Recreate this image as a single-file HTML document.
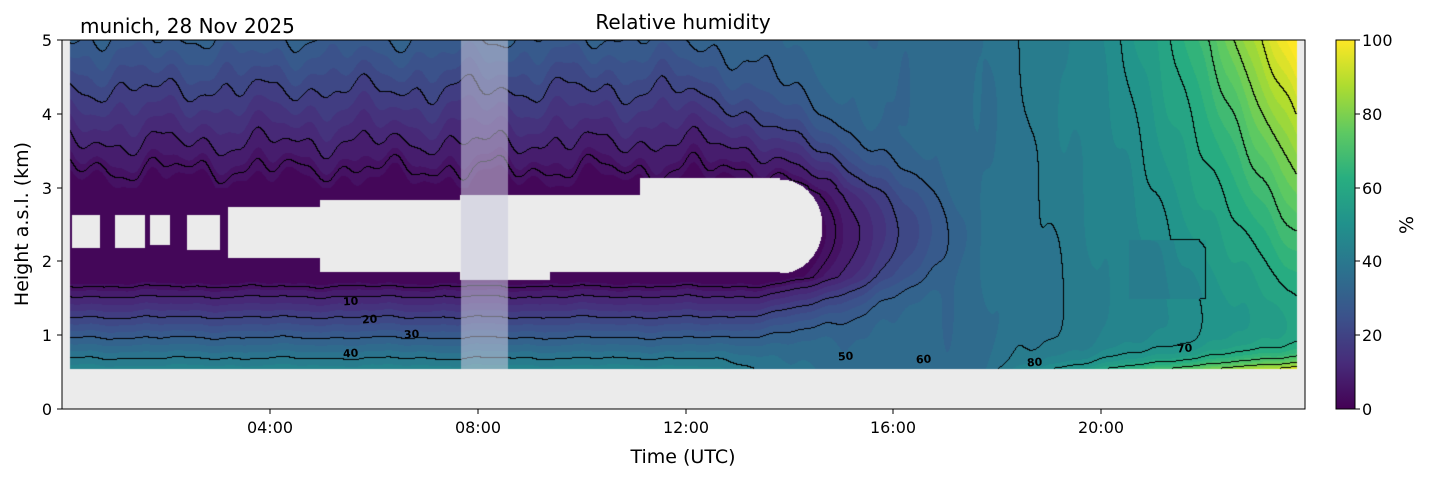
<!DOCTYPE html>
<html><head><meta charset="utf-8">
<style>
body{margin:0;background:#fff;width:1429px;height:478px;overflow:hidden;font-family:"Liberation Sans","DejaVu Sans",sans-serif;}
#c{position:absolute;left:62px;top:40px;}
.lbl{position:absolute;font-size:11px;font-weight:bold;font-family:"DejaVu Sans",sans-serif;transform:rotate(-4deg);}
</style></head><body>
<canvas id="c" width="1243" height="369"></canvas>
<svg width="1429" height="478" style="position:absolute;left:0;top:0">
<defs><linearGradient id="vg" x1="0" y1="1" x2="0" y2="0">
<stop offset="0" stop-color="#440154"/><stop offset="0.125" stop-color="#472c7a"/><stop offset="0.25" stop-color="#3b528b"/><stop offset="0.375" stop-color="#2c728e"/><stop offset="0.5" stop-color="#21918c"/><stop offset="0.625" stop-color="#28ae80"/><stop offset="0.75" stop-color="#5ec962"/><stop offset="0.875" stop-color="#addc30"/><stop offset="1" stop-color="#fde725"/></linearGradient></defs>
<rect x="62" y="40" width="1243" height="369" fill="none" stroke="#000" stroke-width="1"/>
<rect x="1336" y="40" width="19" height="369" fill="url(#vg)" stroke="#000" stroke-width="1"/>
<g stroke="#000">
<line x1="62" y1="409" x2="57" y2="409"/><line x1="62" y1="335" x2="57" y2="335"/><line x1="62" y1="261" x2="57" y2="261"/><line x1="62" y1="188" x2="57" y2="188"/><line x1="62" y1="114" x2="57" y2="114"/><line x1="62" y1="40" x2="57" y2="40"/>
<line x1="270" y1="409" x2="270" y2="414"/><line x1="478" y1="409" x2="478" y2="414"/><line x1="686" y1="409" x2="686" y2="414"/><line x1="893" y1="409" x2="893" y2="414"/><line x1="1101" y1="409" x2="1101" y2="414"/>
<line x1="1355" y1="409" x2="1360" y2="409"/><line x1="1355" y1="335" x2="1360" y2="335"/><line x1="1355" y1="261" x2="1360" y2="261"/><line x1="1355" y1="188" x2="1360" y2="188"/><line x1="1355" y1="114" x2="1360" y2="114"/><line x1="1355" y1="40" x2="1360" y2="40"/>
</g>
<g font-size="16" text-anchor="end" font-family="DejaVu Sans, sans-serif">
<text x="52" y="415">0</text><text x="52" y="341">1</text><text x="52" y="267">2</text><text x="52" y="194">3</text><text x="52" y="120">4</text><text x="52" y="46">5</text>
</g>
<g font-size="16" text-anchor="middle" font-family="DejaVu Sans, sans-serif">
<text x="270" y="433">04:00</text><text x="478" y="433">08:00</text><text x="686" y="433">12:00</text><text x="893" y="433">16:00</text><text x="1101" y="433">20:00</text>
<text x="683" y="463" font-size="19">Time (UTC)</text>
<text x="683" y="29" font-size="20">Relative humidity</text>
<text transform="translate(28,224) rotate(-90)" font-size="19">Height a.s.l. (km)</text>
<text transform="translate(1413,225) rotate(-90)" font-size="19">%</text>
</g>
<g font-size="16" font-family="DejaVu Sans, sans-serif">
<text x="1362" y="415">0</text><text x="1362" y="341">20</text><text x="1362" y="267">40</text><text x="1362" y="194">60</text><text x="1362" y="120">80</text><text x="1362" y="46">100</text>
<text x="80" y="33" font-size="20">munich, 28 Nov 2025</text>
</g>
</svg>
<div class="lbl" style="left:343px;top:295px">10</div>
<div class="lbl" style="left:362px;top:313px">20</div>
<div class="lbl" style="left:404px;top:328px">30</div>
<div class="lbl" style="left:343px;top:347px">40</div>
<div class="lbl" style="left:838px;top:350px">50</div>
<div class="lbl" style="left:916px;top:353px">60</div>
<div class="lbl" style="left:1027px;top:356px">80</div>
<div class="lbl" style="left:1177px;top:342px">70</div>
<script>
var cv=document.getElementById('c'),ctx=cv.getContext('2d');
var W=1243,H=369;
var vir=[[68,1,84],[71,44,122],[59,82,139],[44,114,142],[33,145,140],[40,174,128],[94,201,98],[173,220,48],[253,231,37]];
function cm(v){v=Math.max(0,Math.min(100,v))/100*8;var i=Math.min(7,Math.floor(v)),f=v-i;var a=vir[i],b=vir[i+1];return [a[0]+(b[0]-a[0])*f,a[1]+(b[1]-a[1])*f,a[2]+(b[2]-a[2])*f];}
var holes=[[72,100,215,248],[115,145,215,248],[150,170,215,245],[187,220,215,250],[228,320,207,258],[320,460,200,272],[460,550,195,280],[550,640,195,272],[640,780,178,272]];
function inHole(X,Y){for(var k=0;k<holes.length;k++){var s=holes[k];if(X>=s[0]&&X<s[1]&&Y>=s[2]&&Y<s[3])return true;}
 if(X>=780&&X<822){var hh=47*Math.sqrt(Math.max(0,1-Math.pow((X-780)/42,2)));return Math.abs(Y-226)<hh;}return false;}
function field(t,h){
 var n=1.0*Math.sin(t*3.1+h*1.3)+0.8*Math.sin(t*6.7-h*2.1)+0.5*Math.sin(t*12+h);
 var dry;
 if(h<1.8)dry=45*(1.8-h)/1.25; else if(h<2.9)dry=0; else dry=(h-2.9)*14;
 dry=Math.max(0,dry+n*(h>3?1.4:0.4));
 var m=34+Math.max(0,t-17)*2.2+Math.max(0,t-17)*h*0.4+Math.pow(Math.max(0,t-19.5),2)*Math.pow(h/5,1.5)*2.4+Math.max(0,t-17.5)*7*Math.exp(-(h-0.55)/0.18)+n*0.6;
 if(t>20.5&&t<22&&Math.abs(h-1.9)<0.4)m-=4;
 var tEnd=14.7+3.2*Math.exp(-Math.pow((h-2.4)/1.6,2));
 var tBeg=tEnd-4;
 var w=t<tBeg?1:(t>tEnd?0:1-(t-tBeg)/(tEnd-tBeg));
 w=w*w*(3-2*w);
 return w*dry+(1-w)*m;
}
var levels=[5,10,20,30,40,50,60,70,80,90];
function lev(v){var k=0;for(var j=0;j<levels.length;j++)if(v>=levels[j])k=j+1;return k;}
var img=ctx.createImageData(W,H),d=img.data;
var F=new Float32Array(W*H),M=new Uint8Array(W*H);
for(var y=0;y<H;y++)for(var x=0;x<W;x++){
 var X=x+62,Y=y+40,t=x/52,h=5-y/73.8,i=y*W+x;
 var valid=X>=70&&X<1297&&Y<369&&!inHole(X,Y);
 M[i]=valid?1:0;F[i]=valid?field(t,h):0;
}
for(var y=0;y<H;y++)for(var x=0;x<W;x++){
 var i=y*W+x,p=i*4,c;
 if(!M[i]){c=[235,235,235];}
 else{
  var v=F[i],q=Math.floor(v/3.33)*3.33+1.6;c=cm(q);
  var lv=lev(v),line=false;
  if(x+1<W&&M[i+1]&&lev(F[i+1])!=lv)line=true;
  if(y+1<H&&M[i+W]&&lev(F[i+W])!=lv)line=true;
  if(line)c=[0,0,0];
 }
 var X=x+62;
 if(X>=461&&X<508&&y<329){c=[c[0]*0.45+200*0.55,c[1]*0.45+200*0.55,c[2]*0.45+220*0.55];}
 d[p]=c[0];d[p+1]=c[1];d[p+2]=c[2];d[p+3]=255;
}
ctx.putImageData(img,0,0);
</script>
</body></html>
